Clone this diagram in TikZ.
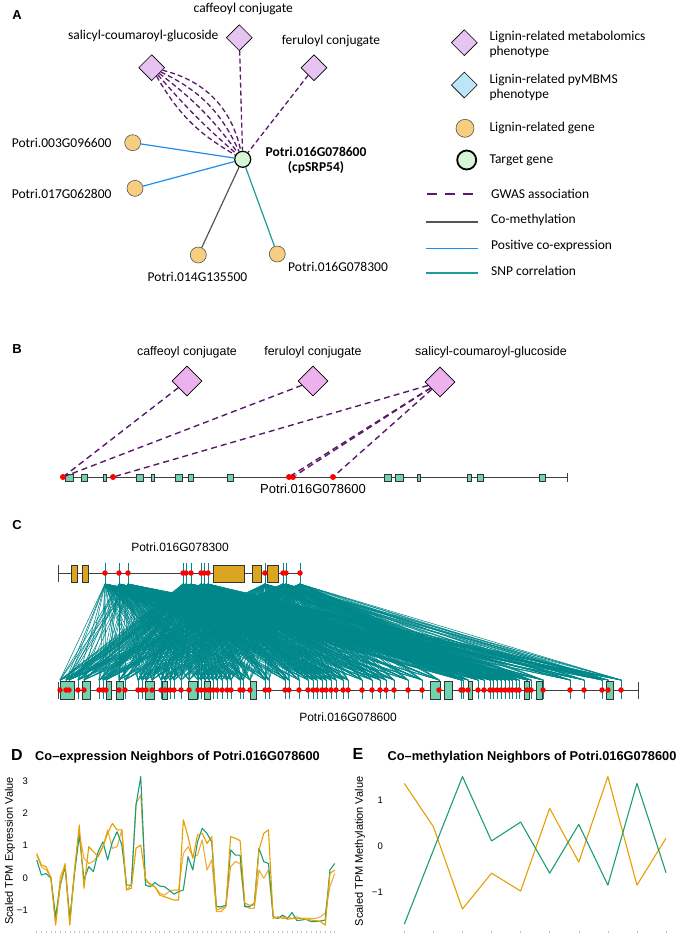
\documentclass[tikz,border=0pt]{standalone}
\usepackage{fontspec}
\setmainfont{Liberation Sans}
\newfontfamily\calibri{Carlito}
\usetikzlibrary{shapes.geometric,positioning}

\definecolor{metapink}{HTML}{E6C3F1}
\definecolor{metapinkb}{HTML}{EDB1EE}
\definecolor{pyblue}{HTML}{BEE4F7}
\definecolor{genegold}{HTML}{F7CD80}
\definecolor{targetgreen}{HTML}{D5F7D5}
\definecolor{gwaspurple}{HTML}{5A1A6B}
\definecolor{methgray}{HTML}{555555}
\definecolor{coexpblue}{HTML}{1E8EEA}
\definecolor{snpteal}{HTML}{1F9C97}
\definecolor{fanteal}{HTML}{00878A}
\definecolor{exonaqua}{HTML}{6ED3AE}
\definecolor{exongold}{HTML}{DAA520}
\definecolor{plotgreen}{HTML}{1B9E77}
\definecolor{plotorange}{HTML}{E69F00}
\definecolor{plotorangeb}{HTML}{F0AC38}

\tikzset{
  panellbl/.style={font=\bfseries\fontsize{13}{15}\selectfont},
  panelbig/.style={font=\bfseries\fontsize{16}{18}\selectfont},
  atext/.style={font=\calibri\fontsize{13.5}{15}\selectfont, inner sep=0pt},
  btext/.style={font=\fontsize{12.4}{14}\selectfont, inner sep=0pt},
  ctext/.style={font=\fontsize{12}{14}\selectfont, inner sep=0pt},
  ptitle/.style={font=\bfseries\fontsize{12.8}{15}\selectfont, inner sep=0pt},
  ylab/.style={font=\fontsize{11}{13}\selectfont, inner sep=0pt, rotate=90},
  ticklbl/.style={font=\fontsize{9.5}{11}\selectfont, inner sep=0pt, anchor=east},
  phenodiam/.style={diamond, draw=black, fill=metapink, inner sep=0pt,
    minimum width=26pt, minimum height=26pt, line width=0.6pt},
  phenodiamb/.style={diamond, draw=black, fill=metapinkb, inner sep=0pt,
    minimum width=30pt, minimum height=30pt, line width=0.6pt},
  genedot/.style={circle, draw=methgray, fill=genegold, inner sep=0pt,
    minimum size=16pt, line width=0.6pt},
  targetdot/.style={circle, draw=black, fill=targetgreen, inner sep=0pt,
    minimum size=16pt, line width=1.2pt},
  snpdot/.style={circle, fill=red, inner sep=0pt, minimum size=5.5pt},
  gwas/.style={draw=gwaspurple, line width=1.3pt, dash pattern=on 5pt off 3pt},
  gwasb/.style={draw=gwaspurple, line width=1.4pt, dash pattern=on 6pt off 4pt},
  cometh/.style={draw=methgray, line width=1.2pt},
  coexp/.style={draw=coexpblue, line width=1.2pt},
  snpcor/.style={draw=snpteal, line width=1.2pt},
  geneline/.style={draw=black!75, line width=0.9pt},
  exona/.style={draw=black!80, fill=exonaqua, line width=0.6pt},
  exong/.style={draw=black!80, fill=exongold, line width=0.6pt},
  spoke/.style={draw=fanteal, line width=0.7pt},
  fan/.style={draw=fanteal, line width=0.55pt},
  dline/.style={line width=1.1pt, line join=round},
  xtick/.style={draw=black!25, line width=0.5pt},
}

\begin{document}
\begin{tikzpicture}[x=1pt,y=-1pt]
%
\useasboundingbox (0,0) rectangle (680,938);
%
% ---------- A : network
\node[panellbl] (la) at (17,15) {A};
\node[phenodiam] (caff) at (239.3,37.7) {};
\node[phenodiam] (sali) at (151.7,67.7) {};
\node[phenodiam] (feru) at (314,67.7) {};
\node[targetdot] (tgt) at (242.7,159.3) {};
\node[genedot] (g003) at (132.7,142.7) {};
\node[genedot] (g017) at (135,188.3) {};
\node[genedot] (g014) at (198.3,255) {};
\node[genedot] (g783) at (277.3,254) {};
%
\node[atext] at (243.3,9) {caffeoyl conjugate};
\node[atext] at (143.3,36) {salicyl-coumaroyl-glucoside};
\node[atext] at (331,40.7) {feruloyl conjugate};
\node[atext, anchor=east] at (111.7,142.7) {Potri.003G096600};
\node[atext, anchor=east] at (111.7,194.3) {Potri.017G062800};
\node[atext] at (197.5,277) {Potri.014G135500};
\node[atext, anchor=west] at (288,266.7) {Potri.016G078300};
\node[atext, font=\calibri\bfseries\fontsize{13.5}{15}\selectfont, align=center] at (316,160.2) {Potri.016G078600\\(cpSRP54)};
%
\draw[gwas] (caff) -- (tgt);
\draw[gwas] (feru) -- (tgt);
\foreach \b in {-15,-4,8,20,32}
  \draw[gwas] (sali) to[bend left=\b] (tgt);
\draw[coexp] (g003) -- (tgt);
\draw[coexp] (g017) -- (tgt);
\draw[cometh] (g014) -- (tgt);
\draw[snpcor] (g783) -- (tgt);
%
% ---------- A : legend
\node[phenodiam] (kmeta) at (464.3,42.7) {};
\node[phenodiam, fill=pyblue] (kpy) at (464.3,85) {};
\node[genedot, minimum size=18pt] (kgene) at (465,128.3) {};
\node[targetdot, minimum size=19pt, line width=1.8pt] (ktgt) at (466.7,160) {};
\node[atext, anchor=west, align=left] at (489.3,44.2) {Lignin-related metabolomics\\phenotype};
\node[atext, anchor=west, align=left] at (489.3,87.5) {Lignin-related pyMBMS\\phenotype};
\node[atext, anchor=west] at (489.3,128) {Lignin-related gene};
\node[atext, anchor=west] at (489.3,160) {Target gene};
%
\coordinate (kg1) at (426.7,194.3);  \coordinate (kg2) at (473.3,194.3);
\coordinate (km1) at (426,221.7);    \coordinate (km2) at (478,221.7);
\coordinate (kc1) at (426,248.3);    \coordinate (kc2) at (478,248.3);
\coordinate (ks1) at (426,272.7);    \coordinate (ks2) at (478,272.7);
\draw[gwas, line width=2pt, dash pattern=on 10pt off 8pt] (kg1) -- (kg2);
\draw[cometh, line width=1.6pt] (km1) -- (km2);
\draw[coexp, line width=1.6pt] (kc1) -- (kc2);
\draw[snpcor, line width=1.6pt] (ks1) -- (ks2);
\node[atext, anchor=west] at (491,194) {GWAS association};
\node[atext, anchor=west] at (491,220) {Co-methylation};
\node[atext, anchor=west] at (491,246) {Positive co-expression};
\node[atext, anchor=west] at (491,270.5) {SNP correlation};
%
% ---------- B : GWAS hits on the gene model
\node[panellbl] (lb) at (17,349) {B};
\node[phenodiamb] (bcaff) at (187,381) {};
\node[phenodiamb] (bferu) at (313,381) {};
\node[phenodiamb] (bsali) at (440,382) {};
\node[btext] at (187,352) {caffeoyl conjugate};
\node[btext] at (313,352) {feruloyl conjugate};
\node[btext] at (491,352) {salicyl-coumaroyl-glucoside};
%
\coordinate (bs) at (62,477);
\coordinate (be) at (567,477);
\draw[geneline] (bs) -- (be);
\draw[geneline] (567,472.5) -- (567,481.5);
\foreach \a/\b in {65/73,81/87,103/106,136/143,151/154,175/182,188/193,227/233,
                   384/391,395/403,417/420,467/471,477/483,539/545}
  \draw[exona] (\a,474) rectangle (\b,481);
\foreach \n/\x in {bs1/63,bs2/113,bs3/289,bs4/293,bs5/333}
  \node[snpdot, minimum size=6pt] (\n) at (\x,477) {};
%
\draw[gwasb] (bcaff) -- (bs1);
\draw[gwasb] (bferu) -- (bs1);
\draw[gwasb] (bsali) -- (bs2);
\draw[gwasb] (bsali) -- (bs3);
\draw[gwasb] (bsali) -- (bs4);
\draw[gwasb] (bsali) -- (bs5);
\node[btext, font=\fontsize{13}{15}\selectfont] at (313,489) {Potri.016G078600};
%
% ---------- C : SNP correlations between the two genes
\node[panellbl] (lc) at (17,525) {C};
\node[ctext] at (180,547) {Potri.016G078300};
\node[ctext] at (348,717) {Potri.016G078600};
%
\foreach \x [count=\i] in {105,119,128,183,186,191,201,204,208,265,283,286,300}
  \coordinate (u\i) at (\x,584);
\foreach \x [count=\i] in {60,66,69,78,84,99,103,106,119,125,138,142,146,152,161,
    165,170,174,181,189,198,201,205,209,213,217,222,227,231,240,243,250,265,269,
    285,289,299,308,313,317,322,326,331,336,343,348,362,372,380,386,394,408,422,
    439,461,463,468,478,484,490,493,497,501,505,509,512,516,519,527,531,543,570,
    584,602,608,621}
  \coordinate (l\i) at (\x,680);
%
\foreach \i in {1,...,13}
  \foreach \j in {1,...,76}
    \draw[fan] (u\i) -- (l\j);
\foreach \i in {1,...,13}
  \draw[spoke] (u\i) -- ++(0,-21);
\foreach \j in {1,...,76}
  \draw[spoke] (l\j) -- ++(0,19);
%
\coordinate (cus) at (58,573);  \coordinate (cue) at (302,573);
\coordinate (cls) at (58,690);  \coordinate (cle) at (638,690);
\draw[geneline] (cus) -- (cue);
\draw[geneline] (cls) -- (cle);
\draw[geneline] (58,564.5) -- (58,581.5);
\draw[geneline] (58,681.5) -- (58,698.5);
\draw[geneline] (638,681.5) -- (638,698.5);
\foreach \a/\b in {71/77,82/88,213/244,252/261,267/278}
  \draw[exong] (\a,565) rectangle (\b,582);
\foreach \a/\b in {60/74,82/90,106/111,116/123,145/154,162/167,188/197,204/210,
                   250/256,430/440,444/452,468/472,524/529,536/542,606/613}
  \draw[exona] (\a,681) rectangle (\b,699);
\foreach \x in {105,119,128,183,186,191,201,204,208,265,283,286,300}
  \node[snpdot] at (\x,573) {};
\foreach \x in {60,66,69,78,84,99,103,106,119,125,138,142,146,152,161,
    165,170,174,181,189,198,201,205,209,213,217,222,227,231,240,243,250,265,269,
    285,289,299,308,313,317,322,326,331,336,343,348,362,372,380,386,394,408,422,
    439,461,463,468,478,484,490,493,497,501,505,509,512,516,519,527,531,543,570,
    584,602,608,621}
  \node[snpdot] at (\x,690) {};
%
% ---------- D : co-expression profiles
\node[panelbig] (ld) at (17,755) {D};
\node[ptitle] at (177.5,757) {Co–expression Neighbors of Potri.016G078600};
\node[ylab] at (10,851) {Scaled TPM Expression Value};
\foreach \v/\t in {3/3,2/2,1/1,0/0,-1/−1}
  \node[ticklbl] at (28,{878-32.3*\v}) {\t};
\foreach \i in {0,...,63}
  \draw[xtick] ({36.7+4.73*\i},930.5) -- ++(0,2.5);
\begin{scope}[shift={(36.7,878)}, x=4.73pt, y=32.3pt]
\draw[dline, plotorangeb] (0,0.71) \foreach \v [count=\i] in {0.35,0.25,0.04,-1.35,
  0.04,0.40,-1.40,0.25,1.38,0.61,0.45,0.51,0.71,0.97,1.49,0.92,0.97,1.49,-0.37,-0.22,
  2.31,2.57,-0.11,-0.17,-0.27,-0.47,-0.53,-0.42,-0.37,-0.37,0.76,0.97,0.66,0.71,1.18,
  0.25,0.56,-1.04,-1.04,-0.89,0.35,0.51,0.45,-0.84,-0.94,-0.94,0.25,-0.01,0.25,-1.20,
  -1.25,-1.20,-1.28,-1.26,-1.20,-1.25,-1.24,-1.25,-1.25,-1.20,-1.09,-0.27,0.14} {-- (\i,\v)};
\draw[dline, plotgreen] (0,0.56) \foreach \v [count=\i] in {0.09,0.14,-0.01,-1.20,
  -0.22,0.35,-1.25,0.14,1.33,-0.06,0.35,0.20,0.82,1.12,0.56,1.12,1.43,1.02,-0.22,-0.22,
  2.26,3.14,-0.22,-0.27,-0.14,-0.25,-0.27,-0.37,-0.50,-0.42,-0.37,0.66,0.25,1.12,1.54,
  1.38,1.12,-0.89,-0.89,-0.84,0.87,0.71,0.71,-0.89,-0.89,-0.78,0.92,0.51,0.45,-1.20,
  -1.25,-1.15,-1.25,-1.07,-1.32,-1.30,-1.28,-1.35,-1.35,-1.33,-1.30,0.25,0.45} {-- (\i,\v)};
\draw[dline, plotorange] (0,0.76) \foreach \v [count=\i] in {0.40,0.35,-0.01,-1.46,
  -0.17,0.45,-1.46,0.25,1.64,-0.32,0.97,0.82,0.66,0.97,1.38,1.69,1.49,1.49,-0.37,-0.32,
  0.92,1.02,-0.01,-0.22,-0.27,-0.53,-0.58,-0.63,-0.68,-0.68,1.80,1.28,0.61,1.33,1.38,
  1.07,1.28,-0.99,-0.94,-0.89,1.28,1.23,1.16,-0.78,-0.84,-0.84,0.87,1.38,1.49,-1.25,
  -1.20,-1.25,-1.22,-1.25,-1.25,-1.25,-1.28,-1.30,-1.32,-1.35,-1.46,0.14,0.25} {-- (\i,\v)};
\end{scope}
%
% ---------- E : co-methylation profiles
\node[panelbig] (le) at (358,754) {E};
\node[ptitle] at (532,757) {Co–methylation Neighbors of Potri.016G078600};
\node[ylab] at (360,851.5) {Scaled TPM Methylation Value};
\foreach \v/\t in {1/1,0/0,-1/−1}
  \node[ticklbl] at (383,{846-46*\v}) {\t};
\foreach \i in {0,...,9}
  \draw[xtick] ({404.3+29.08*\i},930.5) -- ++(0,2.5);
\begin{scope}[shift={(404.3,846)}, x=29.08pt, y=46pt]
\draw[dline, plotorange] (0,1.36) \foreach \v [count=\i] in {0.42,-1.37,-0.59,-0.98,
  0.82,-0.35,1.51,-0.85,0.17} {-- (\i,\v)};
\draw[dline, plotgreen] (0,-1.70) \foreach \v [count=\i] in {-0.09,1.51,0.11,0.52,
  -0.59,0.47,-0.85,1.36,-0.58} {-- (\i,\v)};
\end{scope}
%
\end{tikzpicture}
\end{document}
